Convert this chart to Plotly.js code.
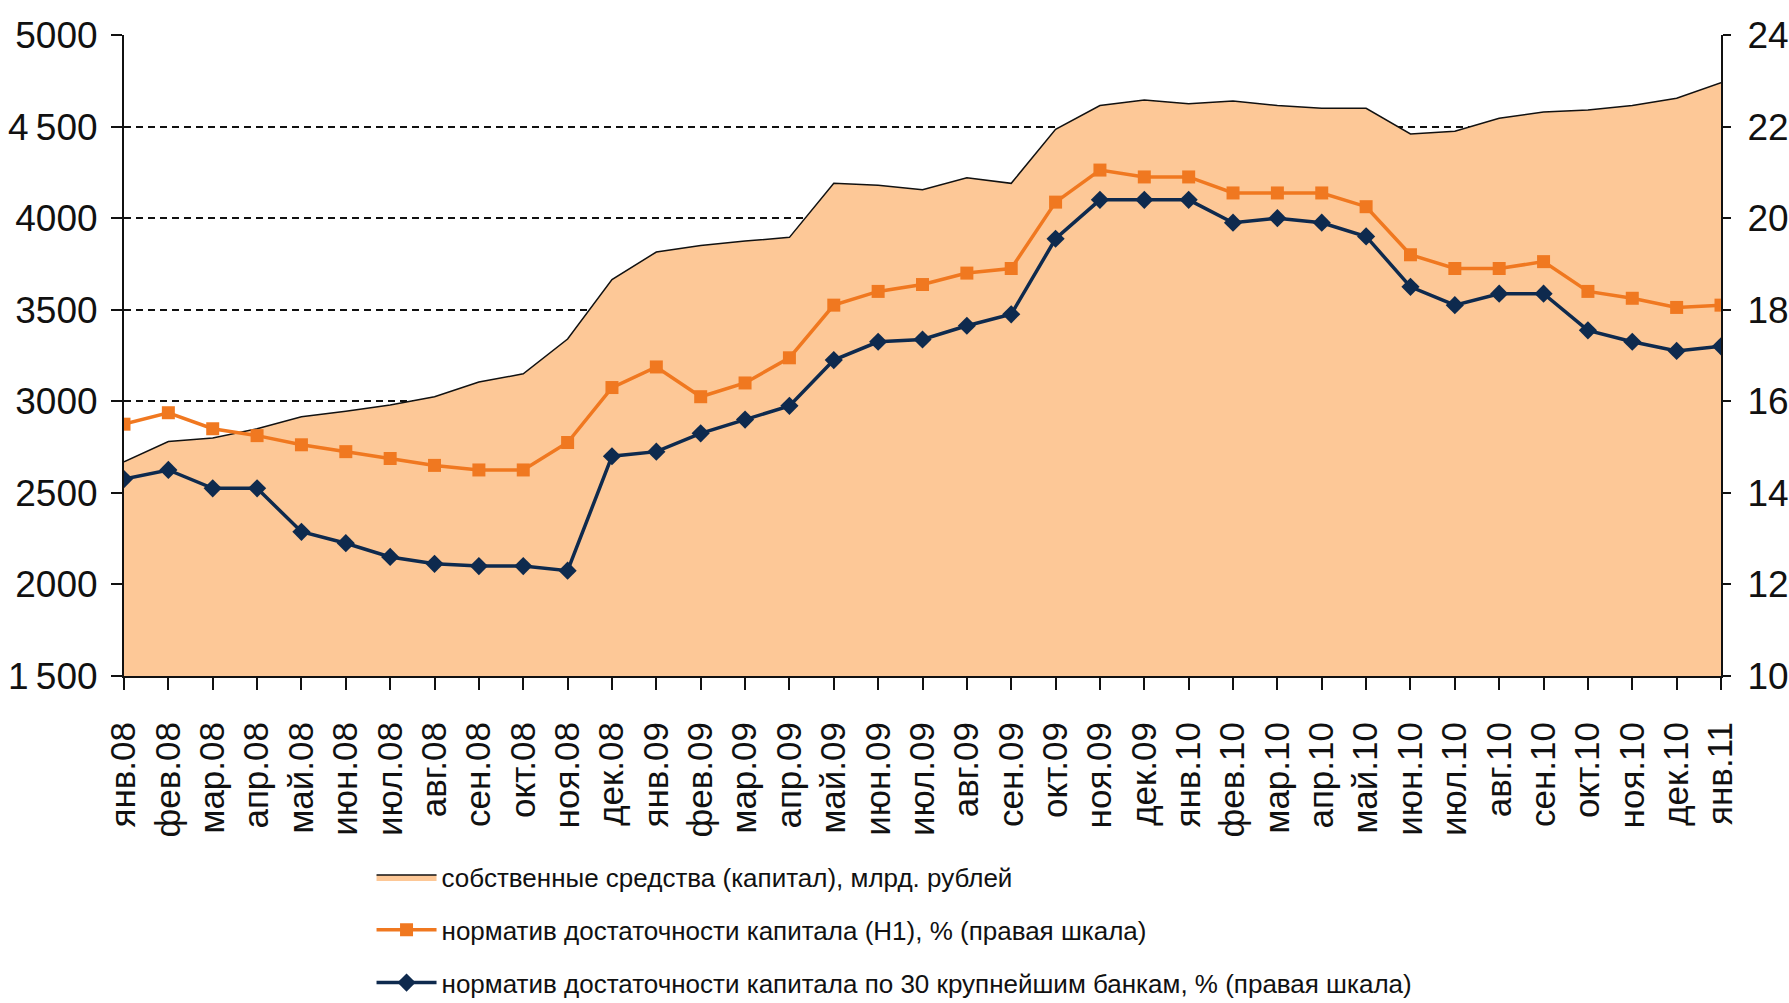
<!DOCTYPE html>
<html>
<head>
<meta charset="utf-8">
<script src="https://cdn.plot.ly/plotly-3.0.1.min.js"></script>
<style>html,body{margin:0;padding:0;background:#fff;}#chart{width:1789px;height:1003px;}</style>
</head>
<body>
<div id="chart"></div>
<script>
const months = ["янв.08","фев.08","мар.08","апр.08","май.08","июн.08","июл.08","авг.08","сен.08","окт.08","ноя.08","дек.08",
"янв.09","фев.09","мар.09","апр.09","май.09","июн.09","июл.09","авг.09","сен.09","окт.09","ноя.09","дек.09",
"янв.10","фев.10","мар.10","апр.10","май.10","июн.10","июл.10","авг.10","сен.10","окт.10","ноя.10","дек.10","янв.11"];
const capital = [2670,2780,2800,2850,2915,2945,2980,3025,3105,3150,3340,3665,3815,3850,3875,3895,4190,4180,4155,4220,4190,4485,4615,4645,4625,4640,4615,4600,4600,4460,4475,4545,4580,4590,4615,4655,4740];
const h1 = [15.5,15.75,15.4,15.25,15.05,14.9,14.75,14.6,14.5,14.5,15.1,16.3,16.75,16.1,16.4,16.95,18.1,18.4,18.55,18.8,18.9,20.35,21.05,20.9,20.9,20.55,20.55,20.55,20.25,19.2,18.9,18.9,19.05,18.4,18.25,18.05,18.1];
const top30 = [14.3,14.5,14.1,14.1,13.15,12.9,12.6,12.45,12.4,12.4,12.3,14.8,14.9,15.3,15.6,15.9,16.9,17.3,17.35,17.65,17.9,19.55,20.4,20.4,20.4,19.9,20.0,19.9,19.6,18.5,18.1,18.35,18.35,17.55,17.3,17.1,17.2];
const leftTicks = [1500,2000,2500,3000,3500,4000,4500,5000];
const leftTickText = ["1\u2009500","2000","2500","3000","3500","4000","4\u2009500","5000"];
const rightTicks = [10,12,14,16,18,20,22,24];
const names = ["собственные средства (капитал), млрд. рублей",
"норматив достаточности капитала (Н1), % (правая шкала)",
"норматив достаточности капитала по 30 крупнейшим банкам, % (правая шкала)"];

const FONT = "Liberation Sans";
const traces = [
  {x: months, y: capital, name: names[0], type: "scatter", mode: "lines", fill: "tozeroy",
   fillcolor: "#FDC897", line: {color: "#111", width: 1.5}, yaxis: "y", legendgroup: "a"},
  {x: months, y: h1, name: names[1], type: "scatter", mode: "lines+markers", yaxis: "y2",
   line: {color: "#F07820", width: 3.5}, marker: {symbol: "square", size: 13, color: "#F07820"}, legendgroup: "b"},
  {x: months, y: top30, name: names[2], type: "scatter", mode: "lines+markers", yaxis: "y2",
   line: {color: "#0E2A4E", width: 3.5}, marker: {symbol: "diamond", size: 14, color: "#0E2A4E"}, legendgroup: "c"}
];
const layout = {
  width: 1789, height: 1003,
  margin: {l: 124, r: 68, t: 35, b: 327, autoexpand: false},
  paper_bgcolor: "#fff", plot_bgcolor: "#fff",
  font: {family: FONT, color: "#111", size: 37},
  showlegend: true,
  legend: {x: 0.155, y: -0.277, xanchor: "left", yanchor: "top", font: {size: 26, family: FONT},
           tracegroupgap: 16, itemwidth: 60, bgcolor: "rgba(0,0,0,0)"},
  xaxis: {type: "category", range: [0, 36], showgrid: false, zeroline: false,
          showline: true, linecolor: "#111", linewidth: 2,
          ticks: "outside", ticklen: 12, tickwidth: 2, tickcolor: "#111", ticklabelstandoff: 18,
          tickangle: -90, tickfont: {size: 35}, automargin: false},
  yaxis: {range: [1500, 5000], tickvals: leftTicks, ticktext: leftTickText,
          showgrid: true, gridcolor: "#111", gridwidth: 2, griddash: "7px,5px",
          showline: true, linecolor: "#111", linewidth: 2, zeroline: false, ticklabelstandoff: 6,
          ticks: "outside", ticklen: 11, tickwidth: 2, tickcolor: "#111", automargin: false},
  yaxis2: {range: [10, 24], tickvals: rightTicks, overlaying: "y", side: "right",
          showgrid: false, zeroline: false, showline: true, linecolor: "#111", linewidth: 2,
          ticklabelstandoff: 9,
          ticks: "outside", ticklen: 8, tickwidth: 2, tickcolor: "#111", automargin: false}
};
Plotly.newPlot("chart", traces, layout, {displayModeBar: false, staticPlot: true});
</script>
</body>
</html>
